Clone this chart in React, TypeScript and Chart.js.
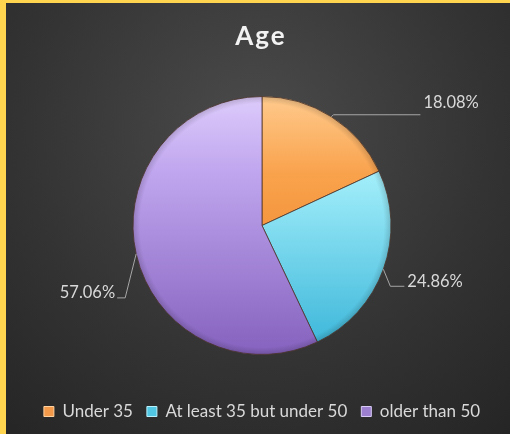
import React, { useEffect, useRef } from "react";
import { Chart, registerables } from "chart.js";

Chart.register(...registerables);

// ---- data ----
const chartTitle = "Age";
const categories = ["Under 35", "At least 35 but under 50", "older than 50"];
const percentages = [18.08, 24.86, 57.06];

// ---- styles ----
const gradStops = [
  ["#FFCA8C", "#F9A24C", "#E87A20"],
  ["#CAFCFF", "#A2EEFA", "#38B4D8"],
  ["#DDCBFB", "#BFA5EE", "#8562BE"],
];
const legendFill = ["#F39A4A", "#52C7E4", "#9C80CF"];
const legendStroke = ["#FFD2A0", "#B8F2FF", "#D8CBF5"];
const PIE_RADIUS = 129;
const FONT = "Lato, 'Open Sans', sans-serif";

// leader-line geometry (relative to the point on the arc edge at the slice middle)
const leaderLayout = [
  { ex: 2, ey: -2, hx: 87, align: "left", ty: -12 },
  { ex: 7, ey: 17, hx: 14, align: "left", ty: -5 },
  { ex: -11, ey: 44, hx: -8, align: "right", ty: -5 },
];

const backgroundPlugin = {
  id: "bg",
  beforeDraw(chart: any) {
    const { ctx, width, height } = chart;
    ctx.save();
    const g = ctx.createRadialGradient(255, 130, 10, 255, 130, 420);
    g.addColorStop(0, "#4A4A4A");
    g.addColorStop(0.55, "#333333");
    g.addColorStop(1, "#232323");
    ctx.fillStyle = g;
    ctx.fillRect(0, 0, width, height);
    ctx.fillStyle = "#FFD54F";
    ctx.fillRect(0, 0, 6, height);
    ctx.fillRect(0, 0, width, 3);
    ctx.restore();
  },
  afterDatasetsDraw(chart: any) {
    const { ctx } = chart;
    const arc = chart.getDatasetMeta(0).data[0];
    if (!arc) return;
    const r = arc.outerRadius;
    ctx.save();
    const g = ctx.createRadialGradient(arc.x, arc.y, r - 7, arc.x, arc.y, r);
    g.addColorStop(0, "rgba(0,0,0,0)");
    g.addColorStop(1, "rgba(0,0,0,0.16)");
    ctx.fillStyle = g;
    ctx.beginPath();
    ctx.arc(arc.x, arc.y, r, 0, Math.PI * 2);
    ctx.fill();
    ctx.restore();
  },
};

const labelPlugin = {
  id: "labels",
  afterDraw(chart: any) {
    const { ctx } = chart;
    const meta = chart.getDatasetMeta(0);
    ctx.save();
    // title
    ctx.font = `bold 26px ${FONT}`;
    (ctx as any).letterSpacing = "2px";
    ctx.fillStyle = "#F2F2F2";
    ctx.textAlign = "center";
    ctx.textBaseline = "alphabetic";
    ctx.fillText(chartTitle, 261, 45);
    (ctx as any).letterSpacing = "0px";

    ctx.font = `16.5px ${FONT}`;
    ctx.textBaseline = "middle";
    meta.data.forEach((arc: any, i: number) => {
      const mid = (arc.startAngle + arc.endAngle) / 2;
      const ax = arc.x + Math.cos(mid) * arc.outerRadius;
      const ay = arc.y + Math.sin(mid) * arc.outerRadius;
      const L = leaderLayout[i];
      const exx = ax + L.ex;
      const eyy = ay + L.ey;
      const fx = exx + L.hx;
      ctx.strokeStyle = "#A6A6A6";
      ctx.lineWidth = 1;
      ctx.beginPath();
      ctx.moveTo(ax, ay);
      ctx.lineTo(exx, eyy);
      ctx.lineTo(fx, eyy);
      ctx.stroke();
      ctx.fillStyle = "#D9D9D9";
      ctx.textAlign = L.align as CanvasTextAlign;
      const tx = L.align === "left" ? fx + 3 : fx - 2;
      ctx.fillText(percentages[i].toFixed(2) + "%", tx, eyy + L.ty);
    });
    ctx.restore();
  },
};

export default function App() {
  const ref = useRef<HTMLCanvasElement>(null);
  useEffect(() => {
    document.body.style.margin = "0";
    const canvas = ref.current!;
    const chart = new Chart(canvas, {
      type: "pie",
      data: {
        labels: categories,
        datasets: [
          {
            data: percentages,
            backgroundColor: (c: any) => {
              const chart = c.chart;
              const area = chart.chartArea;
              const i = c.dataIndex;
              if (!area) return legendFill[i];
              const cy = (area.top + area.bottom) / 2;
              const g = chart.ctx.createLinearGradient(0, cy - PIE_RADIUS, 0, cy + PIE_RADIUS);
              g.addColorStop(0, gradStops[i][0]);
              g.addColorStop(0.3, gradStops[i][1]);
              g.addColorStop(1, gradStops[i][2]);
              return g;
            },
            borderColor: "rgba(80,55,45,0.8)",
            borderWidth: 1,
          },
        ],
      },
      options: {
        responsive: false,
        animation: false,
        radius: PIE_RADIUS,
        layout: { padding: { top: 62, bottom: 4, left: 14, right: 0 } },
        plugins: {
          title: { display: false },
          tooltip: { enabled: false },
          legend: {
            position: "bottom",
            labels: {
              font: { family: FONT, size: 17 },
              color: "#D9D9D9",
              boxWidth: 10,
              boxHeight: 10,
              padding: 14,
              generateLabels: () =>
                categories.map((c, i) => ({
                  text: c,
                  fillStyle: legendFill[i],
                  strokeStyle: legendStroke[i],
                  lineWidth: 1,
                  hidden: false,
                  index: i,
                  fontColor: "#D9D9D9",
                })),
            },
          },
        },
      } as any,
      plugins: [backgroundPlugin, labelPlugin],
    });
    return () => chart.destroy();
  }, []);
  return <canvas ref={ref} width={510} height={434} style={{ display: "block" }} />;
}
